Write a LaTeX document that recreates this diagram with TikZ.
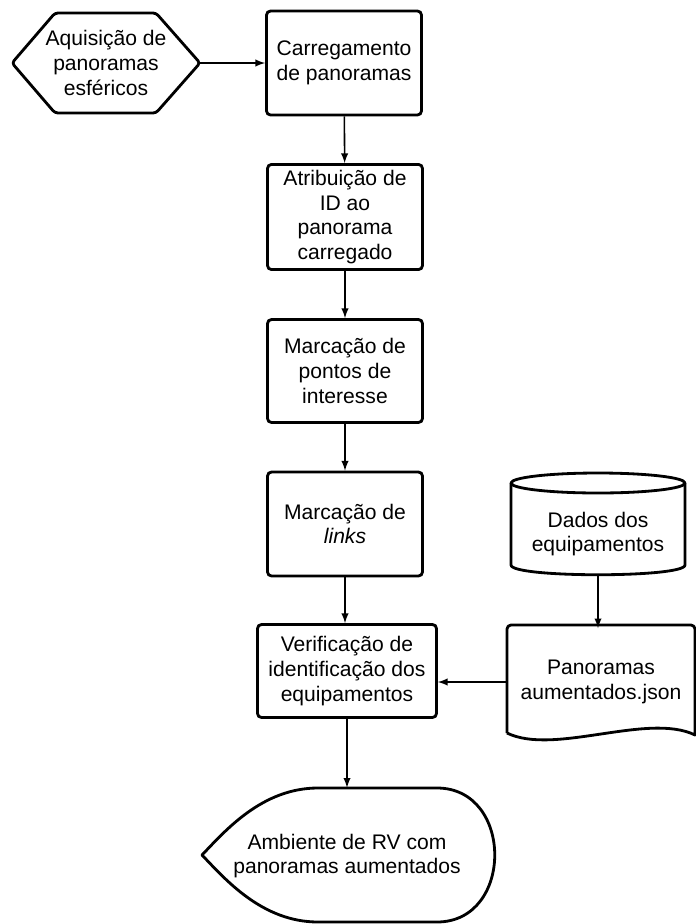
\documentclass[tikz,border=0pt]{standalone}
\usepackage{fontspec}
\setmainfont{Liberation Sans}
\usepackage{tikz}
\usetikzlibrary{arrows}

\begin{document}
\begin{tikzpicture}[x=0.02cm, y=-0.02cm, font=\fontsize{12}{14}\selectfont]
      \tikzstyle{arrow} = [line width=0.9pt, ->, >=latex]
      \tikzstyle{outline} = [line width=1.6pt, line join=round]
      \tikzstyle{process} = [rectangle, rounded corners=0.08cm, minimum width=3.1cm, minimum height=2.06cm, align=center, draw=black, line width=1.6pt]
      \tikzstyle{plain} = [rectangle, align=center, inner sep=0pt]

      \useasboundingbox (0,0) rectangle (696,924);

      % main column
      \node (acq) [plain, minimum width=3.76cm, minimum height=2cm] at (106,63) {Aquisição de\\panoramas\\esféricos};
      \node (load) [process, minimum height=2.08cm] at (344,63) {Carregamento\\de panoramas};
      \node (assign) [process, minimum height=2.04cm] at (345,217) {Atribuição de\\ID ao\\panorama\\carregado};
      \node (poi) [process] at (345,371) {Marcação de\\pontos de\\interesse};
      \node (links) [process, minimum height=2.08cm] at (345,524) {Marcação de\\\textit{links}};
      \node (verif) [process, minimum width=3.58cm, minimum height=1.86cm] at (347,671) {Verificação de\\identificação dos\\equipamentos};
      \node (disp) [plain, minimum width=4cm, minimum height=2.72cm] at (347,856) {Ambiente de RV com\\panoramas aumentados};

      % right column
      \node (data) [plain, minimum width=3.48cm, minimum height=1.64cm] at (598,534) {Dados dos\\equipamentos};
      \node (doc) [plain, minimum width=3.76cm, minimum height=2.14cm] at (601,682) {Panoramas\\aumentados.json};

      % shapes
      \draw [outline, rounded corners=0.06cm] (12,63) -- (55,13) -- (156,13) -- (200,63) -- (156,113) -- (55,113) -- cycle;
      \draw [outline] (598,483) ellipse [x radius=87, y radius=10];
      \draw [outline] (511,483) -- (511,565) .. controls (511,578) and (685,578) .. (685,565) -- (685,483);
      \draw [outline] (507,733) -- (507,690) [rounded corners=0.08cm] -- (507,625) -- (695,625) -- (695,690) [sharp corners] -- (695,735) .. controls (648,712) and (554,756) .. (507,733);
      \draw [outline] (318,788) -- (437,788) .. controls (514,788) and (514,922) .. (437,922) -- (318,922) .. controls (262,922) and (225,879) .. (202,855) .. controls (225,831) and (262,788) .. (318,788) -- cycle;

      \draw [arrow] (acq.east) -- (acq.east -| load.west);
      \draw [arrow] (load) -- (assign);
      \draw [arrow] (assign) -- (poi);
      \draw [arrow] (poi) -- (links);
      \draw [arrow] (links.south) -- (links.south |- verif.north);
      \draw [arrow] (verif) -- (disp);
      \draw [arrow] (data.south) -- (data.south |- doc.north);
      \draw [arrow] (doc.west) -- (doc.west -| verif.east);
\end{tikzpicture}
\end{document}
